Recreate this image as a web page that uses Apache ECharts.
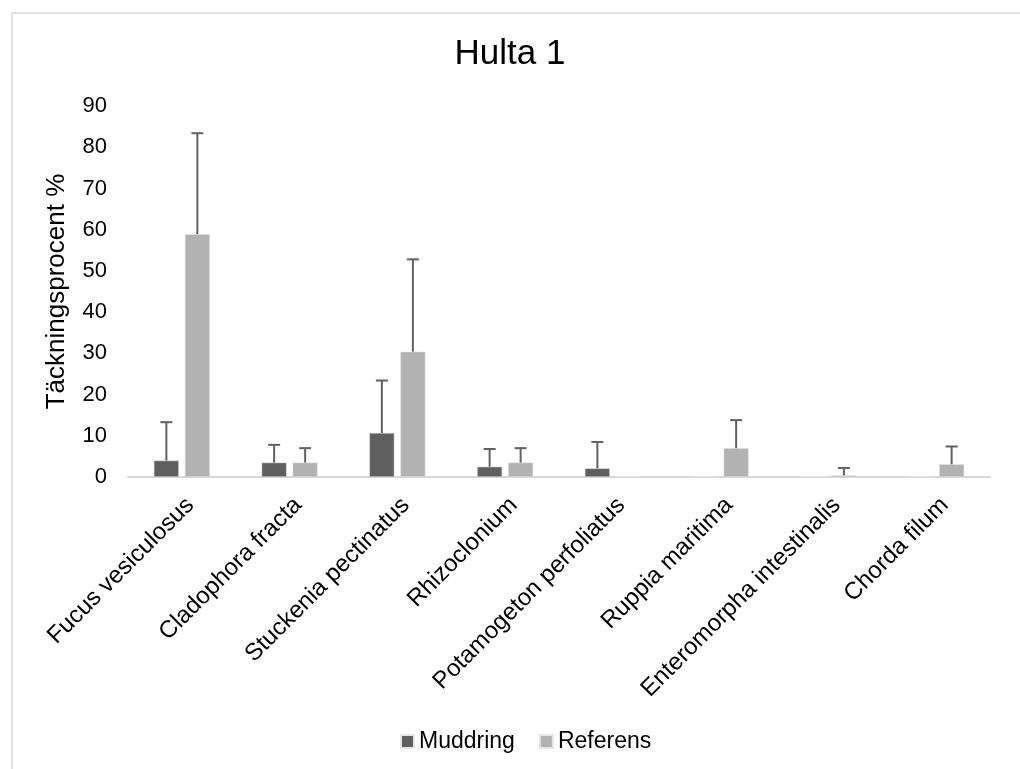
<!DOCTYPE html>
<html>
<head>
<meta charset="utf-8">
<script src="https://cdn.jsdelivr.net/npm/echarts@6/dist/echarts.min.js"></script>
<style>
  html, body { margin: 0; padding: 0; background: #ffffff; }
  #chart { width: 1020px; height: 769px; }
</style>
</head>
<body>
<div id="chart"></div>
<script>
// Cover percentage per species, with standard deviation (plus side only)
const categories = [
  'Fucus vesiculosus',
  'Cladophora fracta',
  'Stuckenia pectinatus',
  'Rhizoclonium',
  'Potamogeton perfoliatus',
  'Ruppia maritima',
  'Enteromorpha intestinalis',
  'Chorda filum'
];
const muddring    = [4.0, 3.5, 10.7, 2.5, 2.1, 0, 0, 0];
const muddringErr = [9.3, 4.3, 12.7, 4.3, 6.4, null, null, null];
const referens    = [58.9, 3.5, 30.4, 3.5, 0, 7.0, 0.4, 3.1];
const referensErr = [24.5, 3.5, 22.4, 3.5, null, 6.8, 1.8, 4.3];
const yTicks = { min: 0, max: 90, interval: 10 };

const FONT = '"Liberation Sans", Arial, sans-serif';
const DARK = '#5f5f5f';
const LIGHT = '#b2b2b2';
const ERR = '#616161';

// Bar geometry within a category band (used to place the error bars)
const CAT_GAP = 0.48;
const BAR_GAP = 0.24;
const barFrac = (1 - CAT_GAP) / (2 + BAR_GAP);
const barShift = barFrac * (0.5 + BAR_GAP / 2);

function errorData(values, errs) {
  const out = [];
  values.forEach((v, i) => {
    if (errs[i] != null) out.push([i, v, errs[i]]);
  });
  return out;
}

function errorSeries(values, errs, side) {
  return {
    type: 'custom',
    z: 5,
    silent: true,
    data: errorData(values, errs),
    encode: { x: 0, y: 1 },
    renderItem(params, api) {
      const idx = api.value(0);
      const base = api.coord([idx, api.value(1)]);
      const top = api.coord([idx, api.value(1) + api.value(2)]);
      const band = api.size([1, 0])[0];
      const x = base[0] + side * barShift * band;
      const cap = 6;
      const style = { stroke: ERR, lineWidth: 2, fill: null };
      return {
        type: 'group',
        children: [
          { type: 'line', shape: { x1: x, y1: base[1], x2: x, y2: top[1] }, style },
          { type: 'line', shape: { x1: x - cap, y1: top[1], x2: x + cap, y2: top[1] }, style }
        ]
      };
    }
  };
}

const chart = echarts.init(document.getElementById('chart'), null, { renderer: 'canvas' });
chart.setOption({
  backgroundColor: '#ffffff',
  animation: false,
  graphic: [{
    type: 'rect',
    left: 9.5, top: 10.5,
    shape: { width: 1100, height: 1000 },
    style: { fill: 'none', stroke: '#d9d9d9', lineWidth: 1.5 },
    silent: true
  }],
  title: {
    text: 'Hulta 1',
    left: 'center',
    top: 32,
    textStyle: { fontFamily: FONT, fontSize: 35, fontWeight: 'normal', color: '#000000' }
  },
  legend: {
    left: 395,
    bottom: 11,
    icon: 'rect',
    itemWidth: 13,
    itemHeight: 13,
    itemGap: 24,
    textStyle: { fontFamily: FONT, fontSize: 23, color: '#000000' },
    data: ['Muddring', 'Referens']
  },
  grid: { left: 128, right: 30, top: 106, bottom: 292, containLabel: false },
  xAxis: {
    type: 'category',
    data: categories,
    axisLine: { lineStyle: { color: '#d9d9d9', width: 2 } },
    axisTick: { show: false },
    axisLabel: {
      interval: 0,
      rotate: 45,
      align: 'right',
      verticalAlign: 'top',
      margin: 16,
      fontFamily: FONT,
      fontSize: 24,
      color: '#000000'
    }
  },
  yAxis: {
    type: 'value',
    min: yTicks.min,
    max: yTicks.max,
    interval: yTicks.interval,
    name: 'Täckningsprocent %',
    nameLocation: 'middle',
    nameGap: 58,
    nameTextStyle: { fontFamily: FONT, fontSize: 26, color: '#000000' },
    axisLine: { show: false },
    axisTick: { show: false },
    splitLine: { show: false },
    axisLabel: { fontFamily: FONT, fontSize: 22, color: '#000000', margin: 21 }
  },
  series: [
    {
      name: 'Muddring',
      type: 'bar',
      data: muddring,
      barGap: (BAR_GAP * 100) + '%',
      barCategoryGap: (CAT_GAP * 100) + '%',
      itemStyle: { color: DARK, borderColor: '#e6e6e6', borderWidth: 0.5 }
    },
    {
      name: 'Referens',
      type: 'bar',
      data: referens,
      barGap: (BAR_GAP * 100) + '%',
      barCategoryGap: (CAT_GAP * 100) + '%',
      itemStyle: { color: LIGHT, borderColor: '#e6e6e6', borderWidth: 0.5 }
    },
    errorSeries(muddring, muddringErr, -1),
    errorSeries(referens, referensErr, 1)
  ]
});
</script>
</body>
</html>
